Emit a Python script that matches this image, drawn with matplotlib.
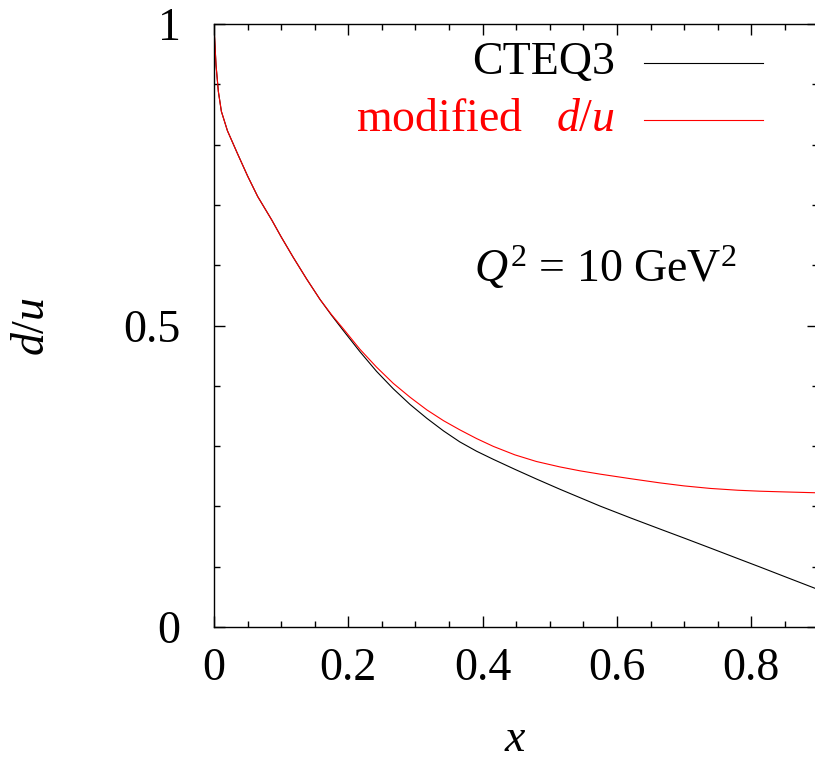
import numpy as np
import matplotlib
matplotlib.use('Agg')
import matplotlib.pyplot as plt
from matplotlib.lines import Line2D

plt.rcParams['font.family'] = ['Liberation Serif', 'DejaVu Serif']
plt.rcParams['mathtext.fontset'] = 'custom'
plt.rcParams['mathtext.rm'] = 'Liberation Serif'
plt.rcParams['mathtext.it'] = 'Liberation Serif:italic'

# d/u ratio
x_cteq = [0.0, 0.003, 0.0065, 0.011, 0.02, 0.035, 0.05, 0.065, 0.086, 0.1,
          0.118, 0.138, 0.158, 0.175, 0.193, 0.217, 0.242, 0.267, 0.292, 0.317,
          0.342, 0.366, 0.391, 0.416, 0.448, 0.48, 0.515, 0.545, 0.575, 0.62,
          0.664, 0.7, 0.739, 0.78, 0.813, 0.85, 0.9]
du_cteq = [0.997, 0.932, 0.888, 0.855, 0.823, 0.785, 0.748, 0.714, 0.675, 0.647,
           0.613, 0.577, 0.543, 0.517, 0.491, 0.457, 0.424, 0.395, 0.369, 0.346,
           0.325, 0.307, 0.2915, 0.278, 0.2615, 0.2455, 0.2285, 0.2145, 0.2005, 0.181,
           0.1625, 0.1475, 0.131, 0.1135, 0.0995, 0.0835, 0.062]

x_mod = [0.0, 0.003, 0.0065, 0.011, 0.02, 0.035, 0.05, 0.065, 0.086, 0.1,
         0.118, 0.138, 0.158, 0.175, 0.193, 0.217, 0.242, 0.267, 0.292, 0.317,
         0.342, 0.366, 0.391, 0.416, 0.448, 0.48, 0.515, 0.545, 0.575, 0.62,
         0.664, 0.7, 0.739, 0.78, 0.813, 0.85, 0.9]
du_mod = [0.997, 0.932, 0.888, 0.855, 0.823, 0.785, 0.748, 0.714, 0.675, 0.647,
          0.613, 0.577, 0.543, 0.518, 0.494, 0.461, 0.431, 0.404, 0.381, 0.360,
          0.342, 0.327, 0.3125, 0.2995, 0.2855, 0.2745, 0.2655, 0.259, 0.2535, 0.246,
          0.239, 0.234, 0.2298, 0.2268, 0.2252, 0.224, 0.2225]

xticks = [0, 0.2, 0.4, 0.6, 0.8]
xticklabels = ['0', '0.2', '0.4', '0.6', '0.8']
yticks = [0, 0.5, 1]
yticklabels = ['0', '0.5', '1']

fs = 33
W, H = 815, 760
fig = plt.figure(figsize=(W / 100, H / 100), dpi=100)
x0, x1, y0, y1 = 214, 818.4, 24, 627
ax = fig.add_axes([x0 / W, 1 - y1 / H, (x1 - x0) / W, (y1 - y0) / H])

ax.plot(x_cteq, du_cteq, '-', color='black', lw=0.8)
ax.plot(x_mod, du_mod, '-', color='red', lw=0.8)

ax.set_xlim(0, 0.9)
ax.set_ylim(0, 1)
ax.set_xticks(xticks)
ax.set_xticklabels(xticklabels)
ax.set_yticks(yticks)
ax.set_yticklabels(yticklabels)
ax.set_xticks(np.arange(0, 0.9, 0.05), minor=True)
ax.set_yticks(np.arange(0, 1.0, 0.1), minor=True)
ax.tick_params(which='both', direction='in', top=True, right=True, width=1.0,
               labelsize=fs)
ax.tick_params(which='major', length=8)
ax.tick_params(which='minor', length=4)
ax.tick_params(axis='x', which='major', pad=15)
ax.tick_params(axis='y', which='major', pad=24)
for sp in ax.spines.values():
    sp.set_linewidth(1.0)

ax.set_xlabel('$x$', fontsize=fs)
ax.xaxis.set_label_coords(0.498, -0.205)
ax.xaxis.label.set_va('baseline')
ax.set_ylabel('$d/u$', fontsize=fs)
ax.yaxis.set_label_coords(-0.30, 0.4975)
ax.yaxis.label.set_va('center')
ax.yaxis.label.set_ha('center')

# key, gnuplot style
ax.text(0.6635, 0.935, 'CTEQ3', transform=ax.transAxes, fontsize=fs,
        ha='right', va='center', color='black')
ax.add_line(Line2D([0.7115, 0.908], [0.935, 0.935], transform=ax.transAxes,
                   color='black', lw=0.8))
ax.text(0.6635, 0.841, r'modified   $d/u$', transform=ax.transAxes, fontsize=fs,
        ha='right', va='center', color='red')
ax.add_line(Line2D([0.7115, 0.908], [0.841, 0.841], transform=ax.transAxes,
                   color='red', lw=0.8))

ax.text(0.647, 0.595, r'$Q^2$ = 10 GeV$^2$', transform=ax.transAxes,
        fontsize=fs, ha='center', va='center')

fig.savefig('out.png', dpi=100)
